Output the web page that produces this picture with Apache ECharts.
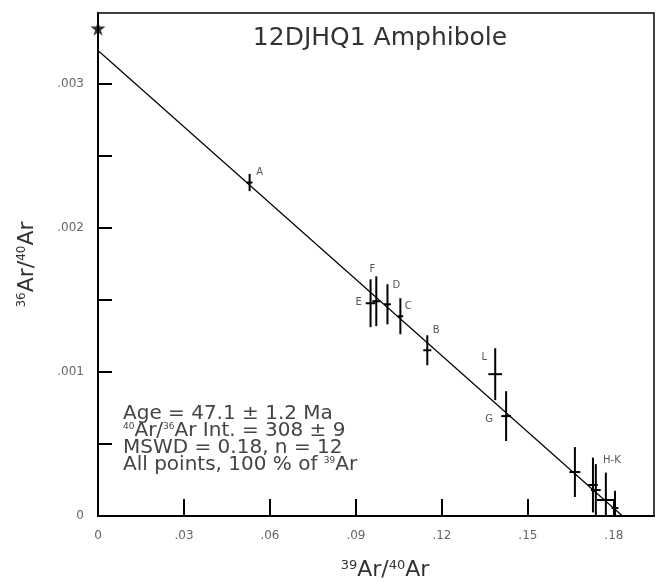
<!DOCTYPE html>
<html>
<head>
<meta charset="utf-8">
<script src="https://cdn.jsdelivr.net/npm/echarts@6/dist/echarts.min.js"></script>
<style>html,body{margin:0;padding:0;background:#fff}#c{width:656px;height:583px}</style>
</head>
<body>
<div id="c"></div>
<script>
// ---- data ----
const pointLabels = ['A', 'B', 'C', 'D', 'E', 'F', 'G', 'H-K', '', '', '', '', 'L'];
const xValues = [0.0529, 0.1149, 0.1055, 0.1010, 0.0951, 0.0971, 0.1424, 0.1664, 0.1727, 0.1737, 0.1772, 0.1804, 0.1386];
const yValues = [0.002314, 0.00115, 0.001386, 0.001469, 0.001476, 0.00149, 0.000693, 0.000305, 0.000215, 0.00018, 0.000111, 0.000055, 0.000984];
const xErrors = [0.0010, 0.0014, 0.0010, 0.0012, 0.0017, 0.0014, 0.0017, 0.0019, 0.0017, 0.0017, 0.0031, 0.0012, 0.0024];
const yErrors = [0.00006, 0.000104, 0.000125, 0.000139, 0.000166, 0.000173, 0.000173, 0.000173, 0.00019, 0.00018, 0.00019, 0.00012, 0.00018];
const fitX = [0, 0.1830];
const fitY = [0.00323, 0];
const atmX = [0];
const atmY = [0.003384];
const xTickValues = [0, 0.03, 0.06, 0.09, 0.12, 0.15, 0.18];
const xTickLabels = ['0', '.03', '.06', '.09', '.12', '.15', '.18'];
const yTickValues = [0, 0.001, 0.002, 0.003];
const yTickLabels = ['0', '.001', '.002', '.003'];
const titleText = '12DJHQ1 Amphibole';
const statsLines = [
  'Age = 47.1 ± 1.2 Ma',
  '{sup|40}Ar/{sup|36}Ar Int. = 308 ± 9',
  'MSWD = 0.18, n = 12',
  'All points, 100 % of {sup|39}Ar'
];

// ---- label offsets (style, px) ----
const labelOffsets = [[10,-10],[9,-20],[8,-10],[9,-19],[-12,-1],[-4,-32],[-17,3],[37,-12],[0,0],[0,0],[0,0],[0,0],[-11,-17]];

function lookup(values, labels) {
  return function (v) {
    for (let i = 0; i < values.length; i++) {
      if (Math.abs(v - values[i]) < 1e-9) return labels[i];
    }
    return '';
  };
}

const FONT = '"DejaVu Sans", Verdana, sans-serif';
const chart = echarts.init(document.getElementById('c'), null, {renderer: 'canvas'});

const pts = xValues.map((x, i) => [x, yValues[i], xErrors[i], yErrors[i]]);

chart.setOption({
  animation: false,
  backgroundColor: '#fff',
  title: [
    {
      text: titleText, left: 375, top: 21, textAlign: 'center',
      textStyle: {fontFamily: FONT, fontSize: 25, fontWeight: 'normal', color: '#333'}
    },
    {
      text: statsLines.join('\n'), left: 118, top: 400,
      textStyle: {
        fontFamily: FONT, fontSize: 20, fontWeight: 'normal', color: '#444', lineHeight: 17,
        rich: {sup: {fontFamily: FONT, fontSize: 9, color: '#444', verticalAlign: 'top', lineHeight: 17}}
      }
    }
  ],
  grid: {left: 98, top: 13, right: 2, bottom: 67, show: true, borderColor: '#000', borderWidth: 1.5,
    containLabel: false, outerBoundsMode: 'none'},
  xAxis: {
    type: 'value', min: 0, max: 0.194, interval: 0.03,
    axisLine: {show: true, onZero: false, lineStyle: {color: '#000', width: 2}},
    axisTick: {show: true, inside: true, length: 17, lineStyle: {color: '#000', width: 2}},
    axisLabel: {formatter: lookup(xTickValues, xTickLabels), showMaxLabel: false, margin: 14, fontFamily: FONT, fontSize: 12, color: '#666'},
    splitLine: {show: false},
    name: '{sup|39}Ar/{sup|40}Ar', nameLocation: 'middle', nameGap: 43,
    nameTextStyle: {fontFamily: FONT, fontSize: 22, color: '#333', padding: [0, 0, 0, 18],
      rich: {sup: {fontFamily: FONT, fontSize: 13, color: '#333', verticalAlign: 'top', lineHeight: 22}}}
  },
  yAxis: {
    type: 'value', min: 0, max: 0.00349, interval: 0.0005,
    axisLine: {show: true, onZero: false, lineStyle: {color: '#000', width: 2}},
    axisTick: {show: true, inside: true, length: 14, lineStyle: {color: '#000', width: 2}},
    axisLabel: {formatter: lookup(yTickValues, yTickLabels), showMaxLabel: false, margin: 14, fontFamily: FONT, fontSize: 12, color: '#666'},
    splitLine: {show: false},
    name: '{sup|36}Ar/{sup|40}Ar', nameLocation: 'middle', nameGap: 60, nameRotate: 90,
    nameTextStyle: {fontFamily: FONT, fontSize: 22, color: '#333',
      rich: {sup: {fontFamily: FONT, fontSize: 12, color: '#333', verticalAlign: 'top', lineHeight: 22}}}
  },
  series: [
    {
      type: 'line', data: fitX.map((x, i) => [x, fitY[i]]), symbol: 'none',
      lineStyle: {color: '#000', width: 1.2}, silent: true, z: 2
    },
    {
      type: 'custom', clip: true, z: 3,
      data: pts,
      renderItem: function (params, api) {
        const x = api.value(0), y = api.value(1), ex = api.value(2), ey = api.value(3);
        const c = api.coord([x, y]);
        const t = api.coord([x, y + ey]);
        const b = api.coord([x, y - ey]);
        const l = api.coord([x - ex, y]);
        const r = api.coord([x + ex, y]);
        const st = {stroke: '#000', lineWidth: 2};
        const off = labelOffsets[params.dataIndex];
        const children = [
          {type: 'line', shape: {x1: t[0], y1: t[1], x2: b[0], y2: b[1]}, style: st},
          {type: 'line', shape: {x1: l[0], y1: l[1], x2: r[0], y2: r[1]}, style: st}
        ];
        const lab = pointLabels[params.dataIndex];
        if (lab) {
          children.push({type: 'text', x: c[0] + off[0], y: c[1] + off[1],
            style: {text: lab, fill: '#555', font: '10px ' + FONT, align: 'center', verticalAlign: 'middle'}});
        }
        return {type: 'group', children: children};
      }
    },
    {
      type: 'scatter', data: atmX.map((x, i) => [x, atmY[i]]), z: 4,
      symbol: 'path://M50,0 L61,35 L98,35 L68,57 L79,91 L50,70 L21,91 L32,57 L2,35 L39,35 Z',
      symbolSize: 15, itemStyle: {color: '#000'}
    }
  ]
});
</script>
</body>
</html>
